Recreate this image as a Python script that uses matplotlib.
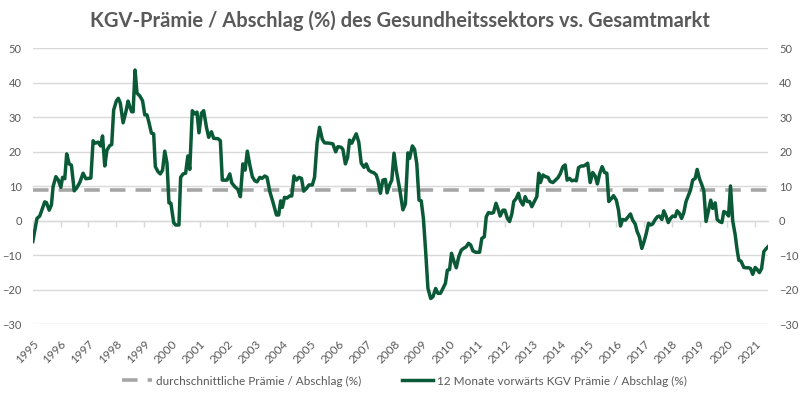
import matplotlib
matplotlib.use("Agg")
import matplotlib.pyplot as plt

# ---- data ----
years = [
    1995.00, 1995.15, 1995.25, 1995.43, 1995.49, 1995.59, 1995.67, 1995.73, 1995.83, 1995.92,
    1996.01, 1996.07, 1996.15, 1996.22, 1996.31, 1996.39, 1996.49, 1996.57, 1996.69, 1996.81,
    1996.91, 1997.09, 1997.17, 1997.24, 1997.35, 1997.44, 1997.51, 1997.59, 1997.67, 1997.77,
    1997.84, 1997.91, 1998.01, 1998.08, 1998.15, 1998.25, 1998.35, 1998.43, 1998.49, 1998.56,
    1998.61, 1998.68, 1998.75, 1998.85, 1998.95, 1999.03, 1999.11, 1999.18, 1999.27, 1999.35,
    1999.41, 1999.51, 1999.59, 1999.67, 1999.75, 1999.83, 1999.90, 1999.97, 2000.07, 2000.14,
    2000.26, 2000.32, 2000.41, 2000.50, 2000.58, 2000.65, 2000.74, 2000.83, 2000.91, 2000.98,
    2001.07, 2001.15, 2001.25, 2001.33, 2001.43, 2001.51, 2001.67, 2001.75, 2001.82, 2001.99,
    2002.09, 2002.16, 2002.27, 2002.38, 2002.47, 2002.56, 2002.64, 2002.72, 2002.81, 2002.90,
    2002.99, 2003.07, 2003.17, 2003.25, 2003.35, 2003.43, 2003.53, 2003.64, 2003.77, 2003.85,
    2003.92, 2003.98, 2004.06, 2004.15, 2004.24, 2004.32, 2004.40, 2004.49, 2004.58, 2004.67,
    2004.75, 2004.85, 2004.94, 2005.06, 2005.14, 2005.23, 2005.32, 2005.42, 2005.50, 2005.68,
    2005.80, 2005.90, 2005.98, 2006.10, 2006.16, 2006.25, 2006.33, 2006.40, 2006.48, 2006.56,
    2006.64, 2006.73, 2006.82, 2006.92, 2007.00, 2007.09, 2007.18, 2007.28, 2007.36, 2007.42,
    2007.51, 2007.60, 2007.69, 2007.75, 2007.84, 2007.92, 2008.00, 2008.08, 2008.20, 2008.32,
    2008.41, 2008.50, 2008.56, 2008.66, 2008.74, 2008.82, 2008.90, 2008.98, 2009.06, 2009.14,
    2009.22, 2009.32, 2009.40, 2009.50, 2009.58, 2009.67, 2009.76, 2009.85, 2009.92, 2010.00,
    2010.07, 2010.16, 2010.24, 2010.33, 2010.42, 2010.50, 2010.60, 2010.68, 2010.76, 2010.84,
    2010.94, 2011.08, 2011.16, 2011.25, 2011.32, 2011.40, 2011.50, 2011.58, 2011.67, 2011.75,
    2011.82, 2011.92, 2011.99, 2012.08, 2012.16, 2012.24, 2012.31, 2012.40, 2012.48, 2012.55,
    2012.64, 2012.72, 2012.80, 2012.88, 2012.96, 2013.05, 2013.14, 2013.21, 2013.27, 2013.36,
    2013.45, 2013.54, 2013.62, 2013.72, 2013.81, 2013.90, 2013.98, 2014.08, 2014.16, 2014.23,
    2014.32, 2014.40, 2014.49, 2014.56, 2014.64, 2014.74, 2014.82, 2014.89, 2014.97, 2015.06,
    2015.15, 2015.24, 2015.32, 2015.40, 2015.49, 2015.58, 2015.66, 2015.73, 2015.83, 2015.90,
    2016.00, 2016.08, 2016.15, 2016.23, 2016.33, 2016.43, 2016.51, 2016.59, 2016.68, 2016.75,
    2016.83, 2016.92, 2017.00, 2017.08, 2017.16, 2017.24, 2017.31, 2017.40, 2017.48, 2017.55,
    2017.64, 2017.71, 2017.80, 2017.87, 2017.95, 2018.03, 2018.12, 2018.19, 2018.27, 2018.35,
    2018.43, 2018.51, 2018.60, 2018.67, 2018.75, 2018.84, 2018.91, 2018.99, 2019.08, 2019.15,
    2019.23, 2019.32, 2019.40, 2019.47, 2019.56, 2019.63, 2019.71, 2019.80, 2019.87, 2019.95,
    2020.04, 2020.11, 2020.19, 2020.28, 2020.35, 2020.41, 2020.49, 2020.59, 2020.67, 2020.76,
    2020.83, 2020.91, 2021.00, 2021.07, 2021.15, 2021.23, 2021.31, 2021.40, 2021.46,
]
premium = [
    -6.0, 0.7, 1.4, 5.5, 5.3, 3.1, 4.6, 9.9, 12.8, 11.8,
    9.7, 12.6, 12.2, 19.4, 16.5, 16.1, 8.7, 9.4, 11.1, 13.8,
    12.2, 12.4, 23.2, 22.5, 22.8, 21.7, 24.6, 15.9, 20.5, 21.8,
    22.1, 32.1, 34.8, 35.5, 34.1, 28.4, 31.6, 34.7, 33.1, 31.6,
    31.6, 43.7, 37.0, 36.2, 34.8, 30.7, 30.7, 28.5, 25.4, 25.2,
    15.7, 14.2, 13.6, 14.7, 20.2, 16.7, 5.2, 5.1, -0.5, -1.2,
    -1.2, 12.6, 13.6, 13.8, 18.8, 14.9, 31.9, 31.0, 31.5, 25.5,
    31.2, 31.9, 27.1, 24.2, 25.8, 23.9, 23.8, 23.2, 11.8, 11.8,
    13.6, 11.0, 9.9, 9.1, 7.0, 16.5, 14.7, 20.2, 16.2, 12.8,
    11.6, 11.3, 12.6, 12.3, 13.0, 12.6, 8.5, 5.5, 1.7, 1.7,
    5.8, 3.9, 6.8, 6.6, 7.2, 7.2, 13.0, 11.8, 12.6, 12.3,
    8.6, 9.4, 10.4, 10.4, 12.6, 22.5, 27.1, 23.6, 22.6, 22.5,
    22.3, 20.0, 21.5, 21.3, 20.7, 16.5, 18.4, 23.4, 22.5, 23.9,
    25.2, 22.9, 16.7, 15.5, 16.5, 14.7, 14.2, 13.9, 13.3, 11.8,
    8.0, 11.8, 12.0, 8.1, 10.4, 11.8, 19.6, 14.7, 9.4, 3.2,
    4.9, 19.7, 18.1, 21.7, 20.7, 16.5, 6.0, 5.8, 0.5, -9.0,
    -19.5, -22.5, -22.0, -19.6, -21.0, -21.0, -19.6, -18.1, -14.3, -14.1,
    -9.4, -11.8, -13.6, -10.4, -8.5, -8.0, -7.5, -6.5, -7.0, -8.7,
    -9.1, -9.1, -5.1, -4.6, 1.2, 2.4, 2.2, 2.4, 5.1, 3.3,
    1.4, 3.1, 3.1, 0.7, -0.2, 2.0, 5.6, 6.5, 8.0, 5.8,
    4.6, 7.0, 5.6, 5.6, 4.1, 5.6, 7.0, 13.8, 11.1, 13.3,
    12.8, 12.6, 11.4, 11.1, 11.8, 12.5, 13.6, 15.7, 16.2, 11.8,
    12.3, 11.6, 11.8, 11.6, 15.4, 15.9, 15.9, 16.2, 16.7, 11.1,
    14.0, 13.0, 10.7, 13.6, 15.7, 14.0, 13.8, 5.6, 6.5, 7.3,
    6.0, 3.1, -1.5, 0.4, 0.2, 1.2, 2.0, 0.2, -0.9, -3.1,
    -4.6, -8.0, -6.0, -3.6, -0.7, -1.2, -0.9, 0.4, 1.2, 1.4,
    0.4, 2.9, 1.2, -0.5, 0.7, 1.4, 1.2, 2.9, 2.2, 0.7,
    2.4, 5.6, 7.5, 8.9, 11.8, 12.3, 14.9, 12.3, 10.4, 8.7,
    -0.2, 3.1, 6.0, 3.6, 5.2, 0.4, -0.2, -0.5, 2.7, 2.4,
    1.4, 10.1, 0.0, -4.1, -8.5, -11.4, -11.7, -13.5, -13.6, -13.6,
    -13.8, -15.5, -13.5, -14.1, -15.0, -13.8, -8.9, -8.0, -7.5,
]
average_premium = 9.0
tick_years = list(range(1995, 2022))
y_ticks = [-30, -20, -10, 0, 10, 20, 30, 40, 50]

title = "KGV-Prämie / Abschlag (%) des Gesundheitssektors vs. Gesamtmarkt"
label_avg = "durchschnittliche Prämie / Abschlag (%)"
label_line = "12 Monate vorwärts KGV Prämie / Abschlag (%)"

# ---- styling ----
FONT = ["Lato", "DejaVu Sans"]
plt.rcParams["font.family"] = FONT
TXT = "#595959"
GRID = "#D9D9D9"
GREEN = "#0A5A37"
DASH = "#A6A6A6"

fig = plt.figure(figsize=(8.0, 3.99), dpi=100)
ax = fig.add_axes([0.041, 0.187, 0.919, 0.692])

x0, x1 = years[0], years[-1]
ax.plot([x0, x1], [average_premium, average_premium], color=DASH, lw=2.6,
        dashes=(4.3, 2.8), label=label_avg, zorder=2)
ax.plot(years, premium, color=GREEN, lw=2.5, label=label_line, zorder=3,
        solid_joinstyle="round")

ax.set_xlim(x0, x1)
ax.set_ylim(-30, 50)
ax.set_yticks(y_ticks)
ax.grid(axis="y", color=GRID, lw=1.0, zorder=0)
for s in ax.spines.values():
    s.set_visible(False)

ax.tick_params(axis="y", length=0, labelsize=8, labelcolor=TXT, pad=8,
               left=False, right=False, labelleft=True, labelright=True)

ax.set_xticks(tick_years)
ax.set_xticklabels([str(y) for y in tick_years], rotation=45, ha="right",
                   rotation_mode="anchor", fontsize=8.5, color=TXT)
ax.tick_params(axis="x", length=0, pad=10)

# zero axis with small tick marks (category axis crossing at 0)
zero_frac = (0 - (-30)) / 80
sec = ax.secondary_xaxis(zero_frac)
sec.set_xticks(tick_years)
sec.set_xticklabels([])
sec.tick_params(axis="x", direction="out", length=4, width=1, color=GRID)
sec.spines["bottom"].set_color(GRID)
sec.spines["bottom"].set_linewidth(1.0)

fig.text(0.5, 0.948, title, ha="center", va="center", fontsize=14.5,
         fontweight="bold", color=TXT)

leg = fig.legend(loc="center", bbox_to_anchor=(0.505, 0.045), ncol=2,
                 frameon=False, fontsize=8.5, labelcolor=TXT,
                 handlelength=2.6, columnspacing=3.5, handletextpad=0.3)

fig.savefig("out.png", dpi=100, facecolor="white")
